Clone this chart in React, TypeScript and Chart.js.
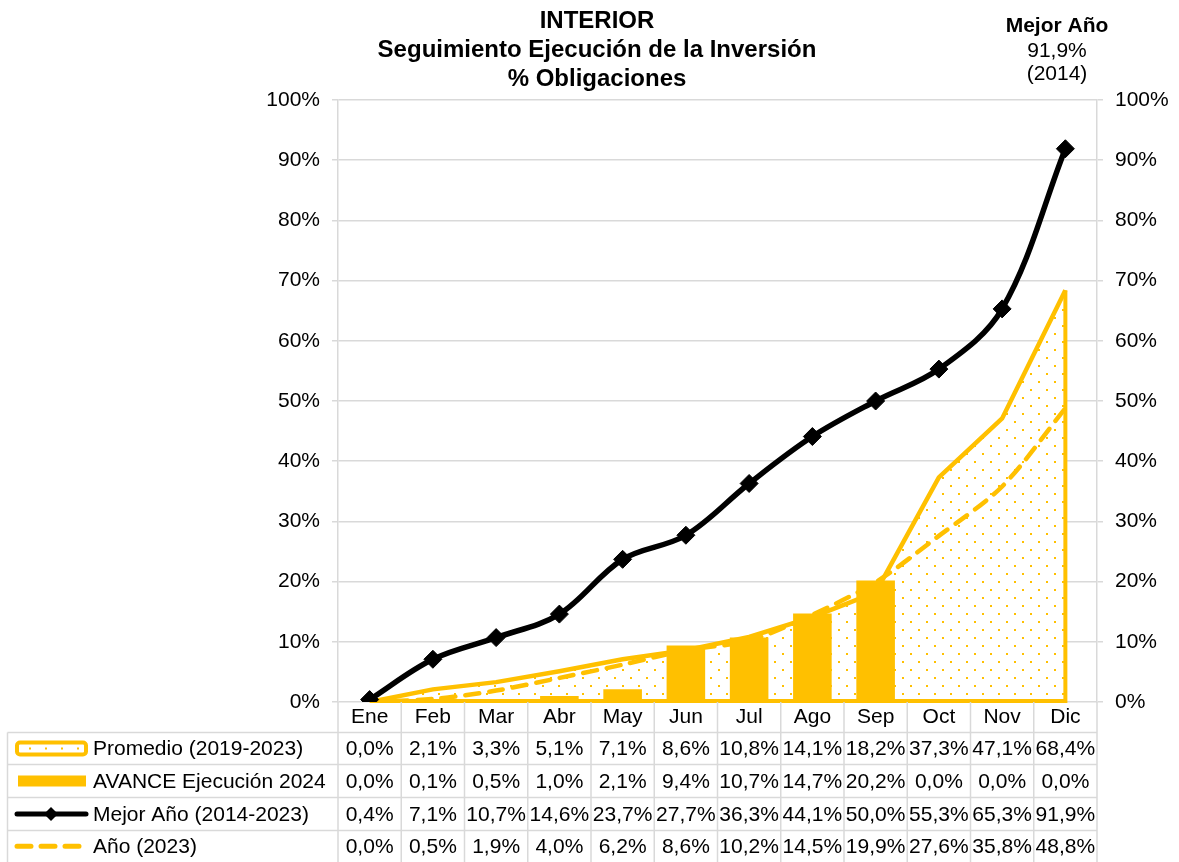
import React, { useEffect, useRef } from 'react';
import { Chart, registerables } from 'chart.js';

Chart.register(...registerables);

const months = ['Ene', 'Feb', 'Mar', 'Abr', 'May', 'Jun', 'Jul', 'Ago', 'Sep', 'Oct', 'Nov', 'Dic'];
const promedio = [0.0, 2.1, 3.3, 5.1, 7.1, 8.6, 10.8, 14.1, 18.2, 37.3, 47.1, 68.4];
const avance = [0.0, 0.1, 0.5, 1.0, 2.1, 9.4, 10.7, 14.7, 20.2, 0.0, 0.0, 0.0];
const mejor = [0.4, 7.1, 10.7, 14.6, 23.7, 27.7, 36.3, 44.1, 50.0, 55.3, 65.3, 91.9];
const anio2023 = [0.0, 0.5, 1.9, 4.0, 6.2, 8.6, 10.2, 14.5, 19.9, 27.6, 35.8, 48.8];
const seriesNames = ['Promedio (2019-2023)', 'AVANCE Ejecución 2024', 'Mejor Año (2014-2023)', 'Año (2023)'];
const titleLines = ['INTERIOR', 'Seguimiento Ejecución de la Inversión', '% Obligaciones'];
const bestYearTitle = 'Mejor Año';
const bestYear = '(2014)';
const yMin = 0;
const yMax = 100;
const yStep = 10;

const YELLOW = '#FFC000';
const GRID = '#d9d9d9';
const FONT = '"Liberation Sans", Arial, sans-serif';
const FS = 21;

const fmt = (v: number) => v.toFixed(1).replace('.', ',') + '%';

function makeDots(): CanvasPattern | string {
  const c = document.createElement('canvas');
  c.width = 16;
  c.height = 16;
  const g = c.getContext('2d');
  if (!g) return '#fff';
  g.fillStyle = '#ffffff';
  g.fillRect(0, 0, 16, 16);
  g.fillStyle = YELLOW;
  g.fillRect(6, 5, 2, 2);
  g.fillRect(14, 13, 2, 2);
  return g.createPattern(c, 'repeat') || '#fff';
}

const rowLines = [702, 732.5, 764.5, 797.5, 830.5, 862];

const drawPlugin = {
  id: 'customDraw',
  afterDatasetDraw(chart: any, args: any) {
    if (args.index !== 0) return;
    const { ctx } = chart;
    const x = chart.scales.x;
    const y = chart.scales.y;
    const n = promedio.length - 1;
    ctx.save();
    ctx.strokeStyle = YELLOW;
    ctx.lineWidth = 4;
    ctx.lineJoin = 'miter';
    ctx.beginPath();
    ctx.moveTo(x.getPixelForValue(n), y.getPixelForValue(promedio[n]));
    ctx.lineTo(x.getPixelForValue(n), y.getPixelForValue(0) - 1);
    ctx.lineTo(x.getPixelForValue(0), y.getPixelForValue(0) - 1);
    ctx.stroke();
    ctx.restore();
  },
  afterDraw(chart: any) {
    const { ctx, chartArea: ca } = chart;
    const x = chart.scales.x;
    ctx.save();

    // Title
    ctx.fillStyle = '#000';
    ctx.textAlign = 'center';
    ctx.textBaseline = 'middle';
    ctx.font = `bold 24px ${FONT}`;
    const titleY = [21, 50, 79];
    titleLines.forEach((t, i) => ctx.fillText(t, 597, titleY[i]));

    // Best year annotation
    ctx.font = `bold ${FS}px ${FONT}`;
    ctx.fillText(bestYearTitle, 1057, 26);
    ctx.font = `${FS}px ${FONT}`;
    ctx.fillText(fmt(Math.max(...mejor)), 1057, 51);
    ctx.fillText(bestYear, 1057, 74);

    // Table grid
    const left = 7.5;
    const colW = ca.width / months.length;
    ctx.strokeStyle = GRID;
    ctx.lineWidth = 1.5;
    ctx.beginPath();
    for (let i = 1; i < rowLines.length - 1; i++) {
      ctx.moveTo(left, rowLines[i]);
      ctx.lineTo(ca.right, rowLines[i]);
    }
    ctx.moveTo(left, rowLines[1]);
    ctx.lineTo(left, 862);
    for (let i = 0; i <= months.length; i++) {
      const xb = ca.left + i * colW;
      ctx.moveTo(xb, ca.bottom);
      ctx.lineTo(xb, 862);
    }
    ctx.stroke();

    // Table values
    const rows = [promedio, avance, mejor, anio2023];
    ctx.fillStyle = '#000';
    ctx.font = `${FS}px ${FONT}`;
    ctx.textAlign = 'center';
    ctx.textBaseline = 'middle';
    rows.forEach((arr, r) => {
      const cy = (rowLines[r + 1] + rowLines[r + 2]) / 2 + 1;
      arr.forEach((v, i) => ctx.fillText(fmt(v), x.getPixelForValue(i), cy));
    });

    // Legend labels
    ctx.textAlign = 'left';
    seriesNames.forEach((s, r) => {
      const cy = (rowLines[r + 1] + rowLines[r + 2]) / 2 + 1;
      ctx.fillText(s, 93, cy);
    });

    // Legend symbols
    const cys = [0, 1, 2, 3].map((r) => (rowLines[r + 1] + rowLines[r + 2]) / 2);
    // Promedio
    ctx.fillStyle = '#fff';
    ctx.strokeStyle = YELLOW;
    ctx.lineWidth = 4;
    ctx.beginPath();
    (ctx as any).roundRect(17, cys[0] - 6, 69, 12, 3);
    ctx.fill();
    ctx.stroke();
    ctx.fillStyle = YELLOW;
    [29, 45, 61, 77].forEach((dx) => ctx.fillRect(dx, cys[0] - 1, 2, 2));
    // Avance
    ctx.fillRect(18, cys[1] - 5.5, 68, 11);
    // Mejor
    ctx.strokeStyle = '#000';
    ctx.lineWidth = 5;
    ctx.lineCap = 'round';
    ctx.beginPath();
    ctx.moveTo(17, cys[2]);
    ctx.lineTo(86, cys[2]);
    ctx.stroke();
    ctx.fillStyle = '#000';
    ctx.beginPath();
    ctx.moveTo(51, cys[2] - 7);
    ctx.lineTo(58, cys[2]);
    ctx.lineTo(51, cys[2] + 7);
    ctx.lineTo(44, cys[2]);
    ctx.closePath();
    ctx.fill();
    // Año 2023
    ctx.strokeStyle = YELLOW;
    ctx.lineWidth = 5;
    ctx.beginPath();
    [[17, 31], [41, 55], [65, 79]].forEach(([a, b]) => {
      ctx.moveTo(a, cys[3]);
      ctx.lineTo(b, cys[3]);
    });
    ctx.stroke();

    ctx.restore();
  },
};

export default function App() {
  const ref = useRef<HTMLCanvasElement | null>(null);

  useEffect(() => {
    if (!ref.current) return;
    Chart.defaults.font.family = FONT;
    const dots = makeDots();
    const chart = new Chart(ref.current, {
      type: 'bar',
      data: {
        labels: months,
        datasets: [
          {
            type: 'line',
            label: seriesNames[0],
            data: promedio,
            borderColor: YELLOW,
            borderWidth: 4.5,
            backgroundColor: dots as any,
            fill: 'origin',
            tension: 0,
            pointRadius: 0,
            order: 4,
          },
          {
            type: 'bar',
            label: seriesNames[1],
            data: avance,
            backgroundColor: YELLOW,
            borderWidth: 0,
            barPercentage: 0.61,
            categoryPercentage: 1,
            order: 3,
          },
          {
            type: 'line',
            label: seriesNames[3],
            data: anio2023,
            borderColor: YELLOW,
            borderWidth: 4.5,
            borderDash: [14, 10],
            borderCapStyle: 'round',
            tension: 0.3,
            pointRadius: 0,
            fill: false,
            order: 2,
          },
          {
            type: 'line',
            label: seriesNames[2],
            data: mejor,
            borderColor: '#000',
            borderWidth: 5.5,
            tension: 0.35,
            pointStyle: 'rectRot',
            pointRadius: 9,
            pointBackgroundColor: '#000',
            pointBorderColor: '#000',
            pointBorderWidth: 1,
            fill: false,
            order: 1,
          },
        ] as any,
      },
      options: {
        responsive: false,
        animation: false,
        layout: { padding: { top: 100, left: 0, right: 0, bottom: 0 } },
        plugins: {
          legend: { display: false },
          tooltip: { enabled: false },
          title: { display: false },
        },
        scales: {
          x: {
            grid: { display: false, drawTicks: false },
            border: { display: false },
            ticks: { color: '#000', font: { size: FS }, padding: 3, maxRotation: 0 },
            afterFit: (s: any) => {
              s.height = 160;
            },
          },
          y: {
            position: 'left',
            min: yMin,
            max: yMax,
            ticks: {
              stepSize: yStep,
              color: '#000',
              font: { size: FS },
              padding: 12,
              callback: (v: any) => v + '%',
            },
            grid: { color: GRID, lineWidth: 1.5, tickLength: 6 },
            border: { color: GRID, width: 1.5 },
            afterFit: (s: any) => {
              s.width = 338;
            },
          },
          y1: {
            position: 'right',
            min: yMin,
            max: yMax,
            ticks: {
              stepSize: yStep,
              color: '#000',
              font: { size: FS },
              padding: 12,
              callback: (v: any) => v + '%',
            },
            grid: { color: GRID, lineWidth: 1.5, tickLength: 6, drawOnChartArea: false },
            border: { color: GRID, width: 1.5 },
            afterFit: (s: any) => {
              s.width = 82;
            },
          },
        },
      },
      plugins: [drawPlugin],
    } as any);
    return () => chart.destroy();
  }, []);

  return (
    <div style={{ position: 'absolute', left: 0, top: 0, width: 1179, height: 862, background: '#fff' }}>
      <canvas ref={ref} width={1179} height={862} style={{ display: 'block' }} />
    </div>
  );
}
